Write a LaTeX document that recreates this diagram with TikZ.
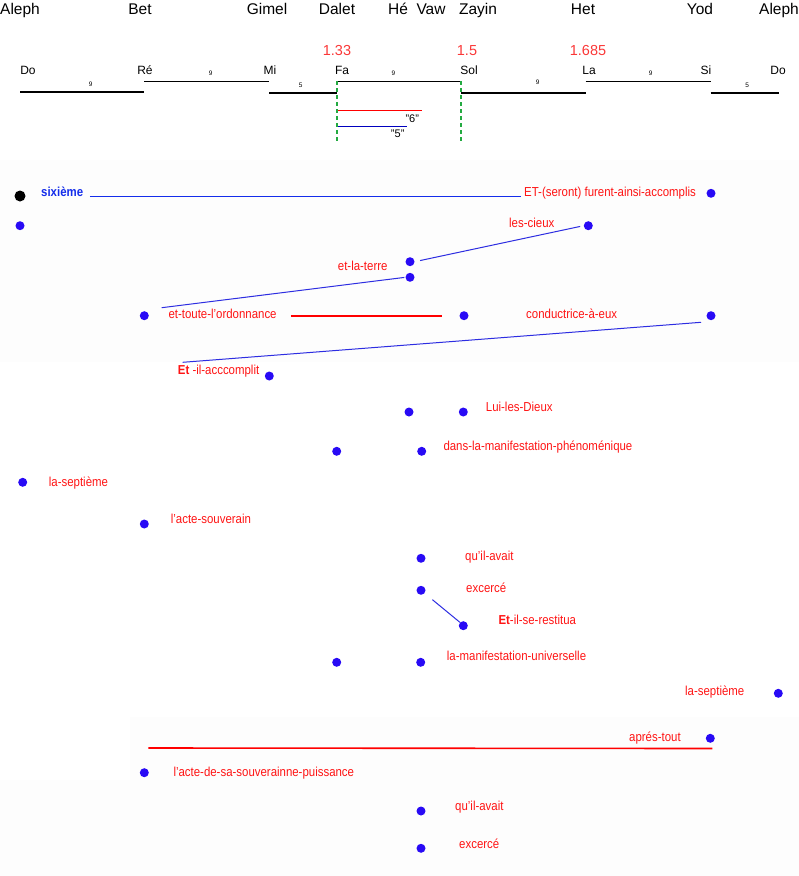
\documentclass[tikz,border=0pt]{standalone}
\usepackage{fontspec}
\setmainfont{Liberation Sans}
\newfontfamily\labfont[FakeStretch=0.88]{Liberation Sans}
\definecolor{dotblue}{RGB}{40,10,245}
\definecolor{lineblue}{RGB}{45,45,225}
\definecolor{sixblue}{RGB}{20,45,235}
\definecolor{labred}{RGB}{255,20,20}
\definecolor{ratiored}{RGB}{250,55,55}
\definecolor{guidegreen}{RGB}{35,170,65}
\definecolor{panel}{RGB}{253,253,253}
\tikzset{
  hdr/.style={font=\fontsize{15.5}{18}\selectfont, anchor=base, inner sep=0pt},
  note/.style={font=\fontsize{12}{14}\selectfont, anchor=base, inner sep=0pt},
  ratio/.style={font=\fontsize{14.5}{17}\selectfont, text=ratiored, anchor=base, inner sep=0pt},
  degree/.style={font=\fontsize{6.5}{8}\selectfont, inner sep=0pt},
  scaleline/.style={line width=1.7pt},
  guide/.style={draw=guidegreen, line width=1.3pt, dash pattern=on 4pt off 3pt},
  lab/.style={font=\labfont\fontsize{13}{15}\selectfont, text=labred, anchor=base west, inner sep=0pt},
  bead/.style={circle, fill=dotblue, inner sep=0pt, minimum size=9pt},
  link/.style={draw=lineblue, line width=1pt},
}
\begin{document}
\begin{tikzpicture}[x=1pt,y=-1pt]
\useasboundingbox (0,0) rectangle (799,876);
\fill[panel] (0,160) rectangle (799,362);
\fill[panel] (130,717) rectangle (799,876);
\fill[panel] (0,780) rectangle (799,876);

\node[hdr] (aleph) at (20,14) {Aleph};
\node[hdr] (bet) at (140,14) {Bet};
\node[hdr] (gimel) at (267,14) {Gimel};
\node[hdr] (dalet) at (337,14) {Dalet};
\node[hdr] (he) at (398,14) {Hé};
\node[hdr] (vaw) at (431,14) {Vaw};
\node[hdr] (zayin) at (478,14) {Zayin};
\node[hdr] (het) at (583,14) {Het};
\node[hdr] (yod) at (700,14) {Yod};
\node[hdr] (aleph2) at (779,14) {Aleph};

\node[ratio] (r1) at (337,55) {1.33};
\node[ratio] (r2) at (467,55) {1.5};
\node[ratio] (r3) at (588,55) {1.685};

\node[note] (do) at (28,74) {Do};
\node[note] (re) at (145,74) {Ré};
\node[note] (mi) at (270,74) {Mi};
\node[note] (fa) at (342,74) {Fa};
\node[note] (sol) at (469,74) {Sol};
\node[note] (la) at (589,74) {La};
\node[note] (si) at (706,74) {Si};
\node[note] (do2) at (778,74) {Do};

\draw[scaleline] (20,92.3) -- (144.3,92.3);
\draw[scaleline] (144.3,81.5) -- (269.3,81.5);
\draw[scaleline] (269.3,93.3) -- (337.3,93.3);
\draw[scaleline] (337.3,81.5) -- (461,81.5);
\draw[scaleline] (461,93.3) -- (585.7,93.3);
\draw[scaleline] (585.7,81.5) -- (710.7,81.5);
\draw[scaleline] (710.7,93.3) -- (779,93.3);
\node[degree] (d1) at (90.7,84) {9};
\node[degree] (d2) at (210.7,73) {9};
\node[degree] (d3) at (300.7,85.3) {5};
\node[degree] (d4) at (393.5,73) {9};
\node[degree] (d5) at (537.7,82) {9};
\node[degree] (d6) at (650.7,73) {9};
\node[degree] (d7) at (747.3,85.3) {5};

\draw[guide] (337,81) -- (337,142);
\draw[guide] (461,81) -- (461,142);
\draw[red, line width=1pt] (338,110.3) -- (421.7,110.3);
\draw[blue!75!black, line width=1pt] (338,126.3) -- (407.3,126.3);
\node[font=\fontsize{11}{13}\selectfont, inner sep=0pt] (six) at (412.3,118.3) {"6"};
\node[font=\fontsize{11}{13}\selectfont, inner sep=0pt] (five) at (397.7,134) {"5"};

\node[circle, fill=black, inner sep=0pt, minimum size=11pt] (b0) at (20,196) {};
\node[lab, text=sixblue, font=\labfont\fontsize{13}{15}\selectfont\bfseries] (sixieme) at (41,196.5) {sixième};
\node[lab] (furent) at (524,196.5) {ET-(seront) furent-ainsi-accomplis};
\node[bead] (b1) at (711,193.3) {};
\draw[link, line width=1.3pt, draw=sixblue, shorten <=6.5pt, shorten >=3.3pt] (sixieme.base east) -- (furent.base west);

\node[bead] (b2) at (20,225.7) {};
\node[lab] (cieux) at (509,227.3) {les-cieux};
\node[bead] (b3) at (588.3,225.7) {};
\node[bead] (b4) at (410,261.7) {};
\node[bead] (b5) at (410,277.3) {};
\node[lab] (terre) at (337.7,270.7) {et-la-terre};
\draw[link, shorten <=5.5pt, shorten >=3.5pt] (b4.east) -- (b3.west);
\coordinate (t1) at (161.7,307.7);
\draw[link, shorten >=1pt] (t1) -- (b5.west);

\node[bead] (b6) at (144.3,315.7) {};
\node[lab] (ordo) at (168.3,318.3) {et-toute-l’ordonnance};
\node[bead] (b7) at (464,315.7) {};
\node[lab] (cond) at (526,318.3) {conductrice-à-eux};
\node[bead] (b8) at (711,315.7) {};
\draw[red, line width=2pt, shorten <=14pt, shorten >=17pt] (ordo.east |- b7) -- (b7.west);

\coordinate (a1) at (182.7,362.3);
\coordinate (a2) at (701,322.3);
\draw[link] (a1) -- (a2);
\node[lab] (accompli) at (177.7,374) {{\bfseries Et} -il-acccomplit};
\node[bead] (b9) at (269.3,376) {};

\node[bead] (b10) at (409,412) {};
\node[bead] (b11) at (463.3,412) {};
\node[lab] (dieux) at (485.7,411.7) {Lui-les-Dieux};
\node[bead] (b12) at (336.7,451.3) {};
\node[bead] (b13) at (421.7,451.3) {};
\node[lab] (pheno) at (443.3,450) {dans-la-manifestation-phénoménique};

\node[bead] (b14) at (22.7,482.3) {};
\node[lab] (sept) at (48.7,486.7) {la-septième};
\node[bead] (b15) at (144.3,524) {};
\node[lab] (souv) at (170.7,523.3) {l’acte-souverain};

\node[bead] (b16) at (421,558.3) {};
\node[lab] (avait) at (465,560) {qu’il-avait};
\node[bead] (b17) at (421,590.3) {};
\node[lab] (exerce) at (466,592.7) {excercé};
\node[bead] (b18) at (463.3,625.7) {};
\node[lab] (restit) at (498.3,624.3) {{\bfseries Et}-il-se-restitua};
\draw[link, shorten <=10pt] (b17) -- (b18.north west);

\node[bead] (b19) at (336.7,662.3) {};
\node[bead] (b20) at (420.7,662.3) {};
\node[lab] (univ) at (446.7,660.7) {la-manifestation-universelle};
\node[lab] (sept2) at (685,695.7) {la-septième};
\node[bead] (b21) at (778.3,693.3) {};

\node[lab] (apres) at (629,741) {aprés-tout};
\node[bead] (b22) at (710.3,738.3) {};
\coordinate (p1) at (148.3,748);
\coordinate (p2) at (712.3,748.5);
\draw[red, line width=1.6pt] (p1) -- (p2);

\node[bead] (b23) at (144.3,772.7) {};
\node[lab] (puiss) at (173.3,776) {l’acte-de-sa-souverainne-puissance};
\node[bead] (b24) at (421,811) {};
\node[lab] (avait2) at (455,810) {qu’il-avait};
\node[bead] (b25) at (421,848.3) {};
\node[lab] (exerce2) at (459,848.3) {excercé};
\end{tikzpicture}
\end{document}
